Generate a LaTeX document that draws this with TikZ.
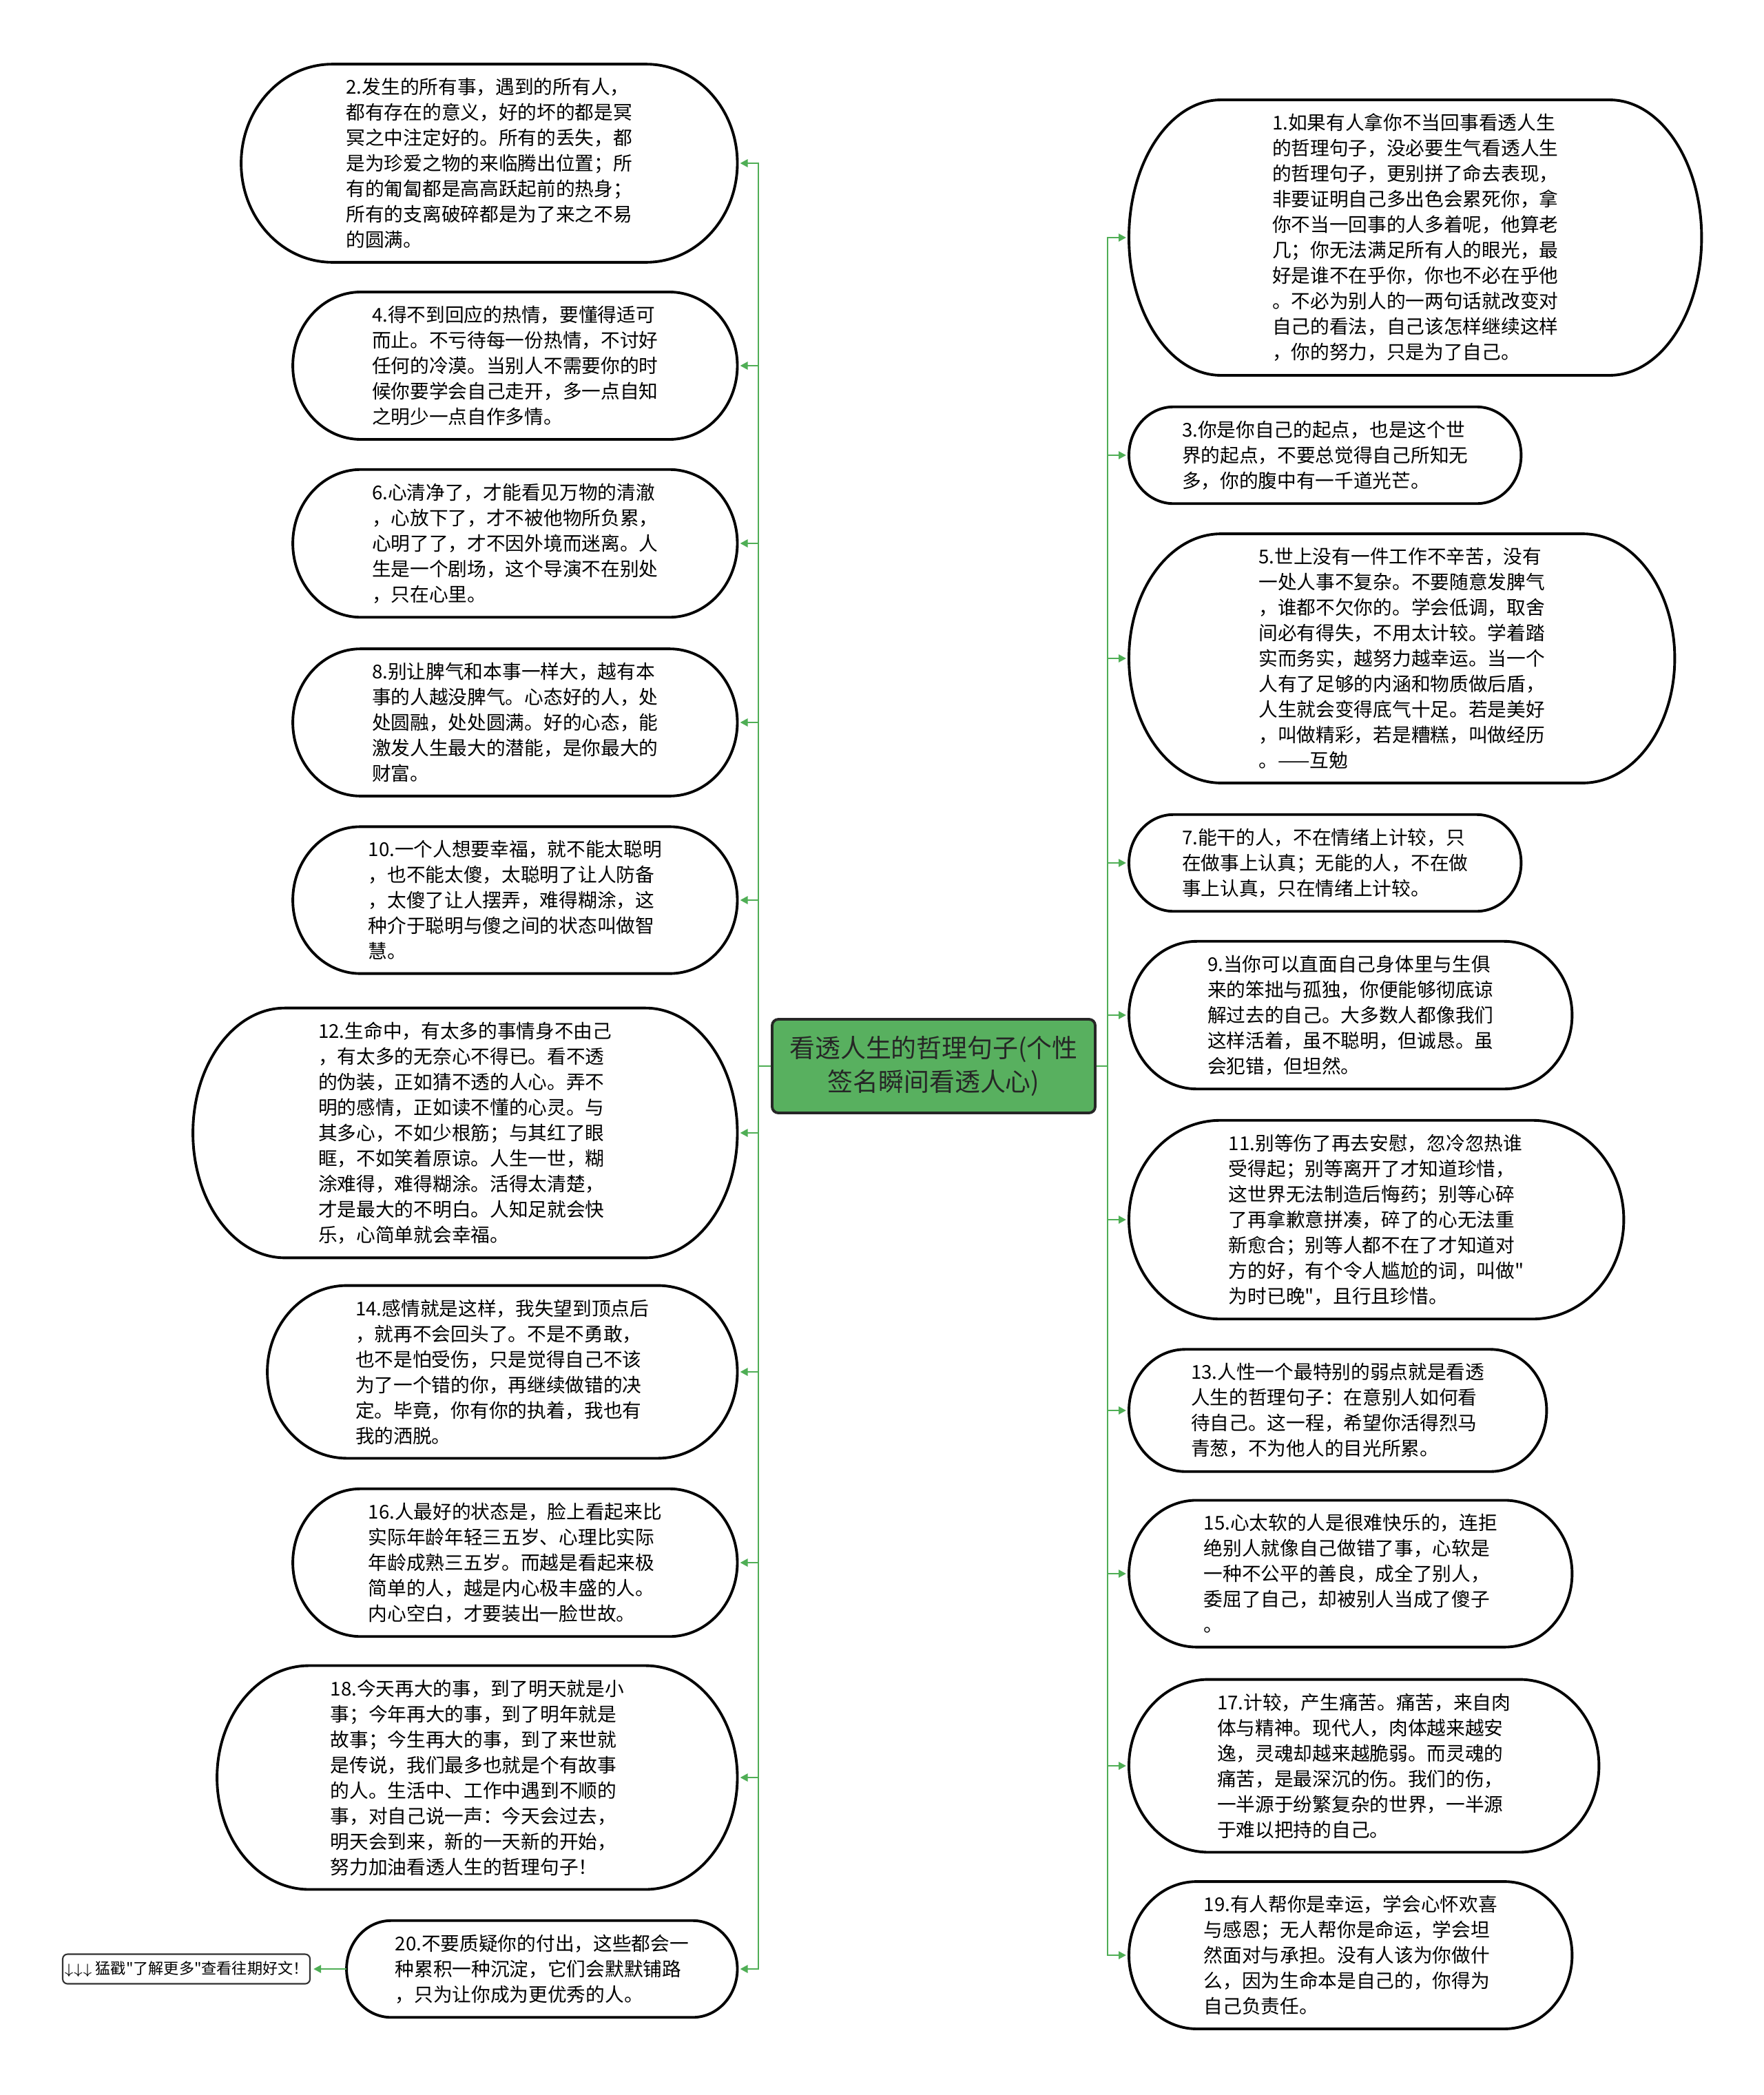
\documentclass[tikz,border=0pt]{standalone}
\usepackage{fontspec}
\newfontfamily\cjk{Noto Sans CJK SC}
\usetikzlibrary{positioning,calc,arrows.meta}

\definecolor{hubgreen}{HTML}{58B05F}
\definecolor{linkgreen}{HTML}{4FAE55}

% outline of a pill shaped node (elliptic ends)
\newcommand{\pillline}[1]{%
  \draw[pillborder] let \p1=(#1.north west), \p2=(#1.south east),
    \n1={0.5*(\y1-\y2)}, \n2={min(0.92*\n1,38pt)} in
    (\x1+\n2,\y1) -- (\x2-\n2,\y1)
    arc[start angle=90, end angle=-90, x radius=\n2, y radius=\n1]
    -- (\x1+\n2,\y2)
    arc[start angle=270, end angle=90, x radius=\n2, y radius=\n1] -- cycle;}

\tikzset{
  pill/.style={font={\cjk\fontsize{7.88pt}{10.53pt}\selectfont}, align=left,
    inner xsep=0pt, inner ysep=5.5pt},
  pillborder/.style={draw=black, line width=1.1pt},
  hub/.style={draw=black!85, line width=1.1pt, fill=hubgreen, rounded corners=0.09cm,
    font={\cjk\fontsize{10.5pt}{13.8pt}\selectfont}, text=black!85, align=center,
    minimum width=4.69cm, minimum height=1.36cm, inner sep=0pt},
  tagbox/.style={draw=black!80, line width=0.6pt, rounded corners=0.07cm,
    font={\cjk\fontsize{6.3pt}{7.5pt}\selectfont}, minimum width=3.59cm,
    minimum height=0.43cm, inner sep=0pt},
  link/.style={draw=linkgreen, line width=0.8pt},
  tip/.style={link, -{Triangle[length=1.1mm,width=1.1mm]}, shorten >=0.4mm}
}

\begin{document}
\begin{tikzpicture}
  \useasboundingbox (0,0) rectangle (25.6,-30.42);

  % Define nodes
  \node[hub] (hub) at (13.555,-15.48) {看透人生的哲理句子(个性\\签名瞬间看透人心)};

  % left column
  \node[pill, anchor=east, minimum width=7.19cm] (n2) at (10.705,-2.37)
    {2.发生的所有事，遇到的所有人，\\都有存在的意义，好的坏的都是冥\\冥之中注定好的。所有的丢失，都\\是为珍爱之物的来临腾出位置；所\\有的匍匐都是高高跃起前的热身；\\所有的支离破碎都是为了来之不易\\的圆满。};
  \node[pill, anchor=east, minimum width=6.44cm] (n4) at (10.705,-5.31)
    {4.得不到回应的热情，要懂得适可\\而止。不亏待每一份热情，不讨好\\任何的冷漠。当别人不需要你的时\\候你要学会自己走开，多一点自知\\之明少一点自作多情。};
  \node[pill, anchor=east, minimum width=6.44cm] (n6) at (10.705,-7.89)
    {6.心清净了，才能看见万物的清澈\\，心放下了，才不被他物所负累，\\心明了了，才不因外境而迷离。人\\生是一个剧场，这个导演不在别处\\，只在心里。};
  \node[pill, anchor=east, minimum width=6.44cm] (n8) at (10.705,-10.49)
    {8.别让脾气和本事一样大，越有本\\事的人越没脾气。心态好的人，处\\处圆融，处处圆满。好的心态，能\\激发人生最大的潜能，是你最大的\\财富。};
  \node[pill, anchor=east, minimum width=6.44cm] (n10) at (10.705,-13.07)
    {10.一个人想要幸福，就不能太聪明\\，也不能太傻，太聪明了让人防备\\，太傻了让人摆弄，难得糊涂，这\\种介于聪明与傻之间的状态叫做智\\慧。};
  \node[pill, anchor=east, minimum width=7.89cm] (n12) at (10.705,-16.45)
    {12.生命中，有太多的事情身不由己\\，有太多的无奈心不得已。看不透\\的伪装，正如猜不透的人心。弄不\\明的感情，正如读不懂的心灵。与\\其多心，不如少根筋；与其红了眼\\眶，不如笑着原谅。人生一世，糊\\涂难得，难得糊涂。活得太清楚，\\才是最大的不明白。人知足就会快\\乐，心简单就会幸福。};
  \node[pill, anchor=east, minimum width=6.81cm] (n14) at (10.705,-19.92)
    {14.感情就是这样，我失望到顶点后\\，就再不会回头了。不是不勇敢，\\也不是怕受伤，只是觉得自己不该\\为了一个错的你，再继续做错的决\\定。毕竟，你有你的执着，我也有\\我的洒脱。};
  \node[pill, anchor=east, minimum width=6.44cm] (n16) at (10.705,-22.69)
    {16.人最好的状态是，脸上看起来比\\实际年龄年轻三五岁、心理比实际\\年龄成熟三五岁。而越是看起来极\\简单的人，越是内心极丰盛的人。\\内心空白，才要装出一脸世故。};
  \node[pill, anchor=east, minimum width=7.54cm] (n18) at (10.705,-25.81)
    {18.今天再大的事，到了明天就是小\\事；今年再大的事，到了明年就是\\故事；今生再大的事，到了来世就\\是传说，我们最多也就是个有故事\\的人。生活中、工作中遇到不顺的\\事，对自己说一声：今天会过去，\\明天会到来，新的一天新的开始，\\努力加油看透人生的哲理句子！};
  \node[pill, anchor=east, minimum width=5.66cm] (n20) at (10.705,-28.59)
    {20.不要质疑你的付出，这些都会一\\种累积一种沉淀，它们会默默铺路\\，只为让你成为更优秀的人。};
  \node[tagbox, left=0.52cm of n20] (tag)
    {$\downarrow\downarrow\downarrow$ 猛戳"了解更多"查看往期好文！};

  % right column
  \node[pill, anchor=west, minimum width=8.30cm] (n1) at (16.39,-3.45)
    {1.如果有人拿你不当回事看透人生\\的哲理句子，没必要生气看透人生\\的哲理句子，更别拼了命去表现，\\非要证明自己多出色会累死你，拿\\你不当一回事的人多着呢，他算老\\几；你无法满足所有人的眼光，最\\好是谁不在乎你，你也不必在乎他\\。不必为别人的一两句话就改变对\\自己的看法，自己该怎样继续这样\\，你的努力，只是为了自己。};
  \node[pill, anchor=west, minimum width=5.68cm] (n3) at (16.39,-6.61)
    {3.你是你自己的起点，也是这个世\\界的起点，不要总觉得自己所知无\\多，你的腹中有一千道光芒。};
  \node[pill, anchor=west, minimum width=7.91cm] (n5) at (16.39,-9.56)
    {5.世上没有一件工作不辛苦，没有\\一处人事不复杂。不要随意发脾气\\，谁都不欠你的。学会低调，取舍\\间必有得失，不用太计较。学着踏\\实而务实，越努力越幸运。当一个\\人有了足够的内涵和物质做后盾，\\人生就会变得底气十足。若是美好\\，叫做精彩，若是糟糕，叫做经历\\。——互勉};
  \node[pill, anchor=west, minimum width=5.68cm] (n7) at (16.39,-12.53)
    {7.能干的人，不在情绪上计较，只\\在做事上认真；无能的人，不在做\\事上认真，只在情绪上计较。};
  \node[pill, anchor=west, minimum width=6.42cm] (n9) at (16.39,-14.74)
    {9.当你可以直面自己身体里与生俱\\来的笨拙与孤独，你便能够彻底谅\\解过去的自己。大多数人都像我们\\这样活着，虽不聪明，但诚恳。虽\\会犯错，但坦然。};
  \node[pill, anchor=west, minimum width=7.17cm] (n11) at (16.39,-17.71)
    {11.别等伤了再去安慰，忽冷忽热谁\\受得起；别等离开了才知道珍惜，\\这世界无法制造后悔药；别等心碎\\了再拿歉意拼凑，碎了的心无法重\\新愈合；别等人都不在了才知道对\\方的好，有个令人尴尬的词，叫做"\\为时已晚"，且行且珍惜。};
  \node[pill, anchor=west, minimum width=6.05cm] (n13) at (16.39,-20.48)
    {13.人性一个最特别的弱点就是看透\\人生的哲理句子：在意别人如何看\\待自己。这一程，希望你活得烈马\\青葱，不为他人的目光所累。};
  \node[pill, anchor=west, minimum width=6.42cm] (n15) at (16.39,-22.85)
    {15.心太软的人是很难快乐的，连拒\\绝别人就像自己做错了事，心软是\\一种不公平的善良，成全了别人，\\委屈了自己，却被别人当成了傻子\\。};
  \node[pill, anchor=west, minimum width=6.81cm] (n17) at (16.39,-25.64)
    {17.计较，产生痛苦。痛苦，来自肉\\体与精神。现代人，肉体越来越安\\逸，灵魂却越来越脆弱。而灵魂的\\痛苦，是最深沉的伤。我们的伤，\\一半源于纷繁复杂的世界，一半源\\于难以把持的自己。};
  \node[pill, anchor=west, minimum width=6.42cm] (n19) at (16.39,-28.39)
    {19.有人帮你是幸运，学会心怀欢喜\\与感恩；无人帮你是命运，学会坦\\然面对与承担。没有人该为你做什\\么，因为生命本是自己的，你得为\\自己负责任。};

  % Outline the pills
  \foreach \nd in {n1,n2,n3,n4,n5,n6,n7,n8,n9,n10,n11,n12,n13,n14,n15,n16,n17,n18,n19,n20}
    \pillline{\nd};

  % Connect the nodes
  \foreach \nd in {n2,n4,n6,n8,n10,n12,n14,n16,n18,n20}
    \draw[tip] (hub.west) -- ++(-0.18,0) |- (\nd.east);
  \foreach \nd in {n1,n3,n5,n7,n9,n11,n13,n15,n17,n19}
    \draw[tip] (hub.east) -- ++(0.16,0) |- (\nd.west);
  \draw[tip] (n20.west) -- (tag.east);
\end{tikzpicture}
\end{document}
